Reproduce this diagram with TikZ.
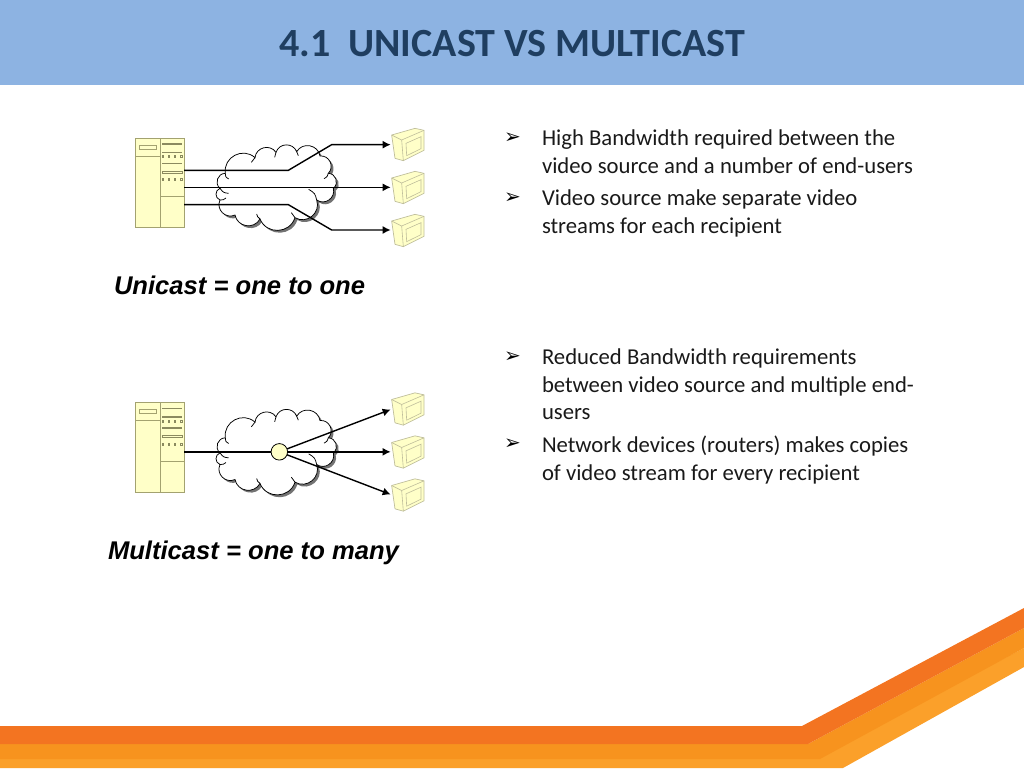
\documentclass[tikz,border=0pt]{standalone}
\usepackage{fontspec}
\setmainfont{Carlito}
\newfontfamily\arialfont{Liberation Sans}
\newfontfamily\bulletfont{DejaVu Sans}
\usetikzlibrary{arrows.meta}
\definecolor{headerblue}{HTML}{8DB3E2}
\definecolor{titleblue}{HTML}{1F3E60}
\definecolor{bandA}{HTML}{F37421}
\definecolor{bandB}{HTML}{F7931E}
\definecolor{bandC}{HTML}{FBA02A}
\definecolor{creamfill}{HTML}{FFFFC8}
\definecolor{creamline}{HTML}{A3A270}
\newcommand{\cloudoutline}{(316,160)
 to[puff] (405,113)
 to[puff] (468,97)
 to[puff] (530,95)
 to[puff] (600,108)
 to[puff] (625,160)
 to[puff] (640,205)
 to[puff] (590,240)
 to[puff] (525,293)
 to[puff] (420,297)
 to[puff] (345,285)
 to[puff] (300,240)
 to[puff] (300,205)
 to[puff] (316,160) -- cycle}
\tikzset{
 every node/.style={inner sep=0pt,outer sep=0pt},
 puff/.style={bend left=70,looseness=1.25},
 link/.style={black,line width=1.4pt},
 linkarrow/.style={link,-{Latex[length=8pt,width=8pt]}},
 serverpart/.style={draw=creamline,line width=0.7pt},
 serverbar/.style={draw=creamline!85!black,line width=1.5pt},
 cloudline/.style={draw=black,line width=0.75pt},
 bodytext/.style={font=\fontsize{22.7}{27.5}\selectfont,align=left,anchor=north west,text=black!90},
 bulletmark/.style={font=\bulletfont\bfseries\fontsize{20}{20}\selectfont,anchor=north west},
 caption/.style={font=\arialfont\bfseries\itshape\fontsize{25.6}{25.6}\selectfont,anchor=base west},
 server/.pic={
  \path[serverpart,fill=creamfill] (46,55) rectangle (193,323);
  \draw[serverpart] (121,55) -- (121,323) (46,108) -- (121,108) (121,230) -- (193,230);
  \draw[serverpart] (58,76) rectangle (110,88);
  \draw[serverbar] (127,72) -- (187,72) (127,97) -- (187,97) (127,131) -- (187,131);
  \draw[serverbar,line width=0.8pt] (127,154) rectangle (187,159);
  \foreach \dx in {129,146,165,184} {
   \draw[creamline!85!black,line width=0.6pt] (\dx-2,107) rectangle (\dx+2,113);
   \draw[creamline!85!black,line width=0.6pt] (\dx-2,175) rectangle (\dx+2,181);
  }
 },
 monitor/.pic={
  \path[draw=creamline!70,line width=0.7pt,fill=creamfill,line join=round] (815,45) -- (885,25) -- (912,31) -- (912,91) -- (850,122) -- (825,115) -- cycle;
  \draw[draw=creamline!70,line width=0.6pt] (815,45) -- (845,60) -- (912,31) (845,60) -- (850,122);
  \draw[draw=creamline!70,line width=0.6pt] (858,70) -- (903,50) -- (903,86) -- (860,107) -- cycle;
 },
 cloudshape/.pic={
  \fill[black!55,shift={(7,7)}] \cloudoutline;
  \path[cloudline,fill=white] \cloudoutline;
  \draw[cloudline] (316,160) .. controls (316,170) .. (326,177)
    (405,113) .. controls (398,118) .. (394,127)
    (468,97) .. controls (464,103) .. (464,112)
    (530,95) .. controls (534,100) .. (535,107)
    (625,160) .. controls (622,170) .. (612,176)
    (590,240) .. controls (585,220) .. (566,208)
    (300,205) .. controls (310,218) .. (326,220)
    (300,240) .. controls (310,240) .. (318,234)
    (420,297) .. controls (412,290) .. (410,282)
    (525,293) .. controls (518,288) .. (514,278);
 },
}
\begin{document}
\begin{tikzpicture}[x=1pt,y=-1pt]
\useasboundingbox (0,0) rectangle (1024,768);
% header
\fill[headerblue] (0,0) rectangle (1024,85);
\node[font=\bfseries\fontsize{40}{40}\selectfont,text=titleblue] (title) at (512,43.5) {4.1\ \ UNICAST VS MULTICAST};
% footer
\fill[bandC] (0,757) -- (815,757) -- (1024,648) -- (1024,667) -- (843,768) -- (0,768) -- cycle;
\fill[bandB] (0,744) -- (808,744) -- (1024,628) -- (1024,648) -- (820,759) -- (0,759) -- cycle;
\fill[bandA] (0,726) -- (802,726) -- (1024,608) -- (1024,628) -- (808,744) -- (0,744) -- cycle;
% unicast diagram
\begin{scope}[shift={(120,120)},x=0.33333pt,y=-0.33333pt]
 \pic {cloudshape};
 \pic {server};
 \pic {monitor};
 \pic[yshift=-43pt] {monitor};
 \pic[yshift=-86pt] {monitor};
 \coordinate (ua1) at (192,151); \coordinate (ua2) at (505,151); \coordinate (ua3) at (635,74); \coordinate (ua4) at (812,74);
 \coordinate (ub1) at (192,202); \coordinate (ub4) at (812,202);
 \coordinate (uc1) at (192,254); \coordinate (uc2) at (505,254); \coordinate (uc3) at (635,330); \coordinate (uc4) at (812,330);
 \draw[linkarrow] (ua1) -- (ua2) -- (ua3) -- (ua4);
 \draw[linkarrow] (ub1) -- (ub4);
 \draw[linkarrow] (uc1) -- (uc2) -- (uc3) -- (uc4);
\end{scope}
% multicast diagram
\begin{scope}[shift={(120,384.5)},x=0.33333pt,y=-0.33333pt]
 \pic {cloudshape};
 \pic {server};
 \pic {monitor};
 \pic[yshift=-43pt] {monitor};
 \pic[yshift=-86pt] {monitor};
 \node[circle,draw=black,line width=0.8pt,fill=creamfill,minimum size=16.5pt] (hub) at (478,202) {};
 \coordinate (ms) at (192,202);
 \coordinate (m1) at (812,75); \coordinate (m2) at (812,202); \coordinate (m3) at (812,330);
 \draw[link] (ms) -- (hub);
 \draw[linkarrow] (hub) -- (m1);
 \draw[linkarrow] (hub) -- (m2);
 \draw[linkarrow] (hub) -- (m3);
\end{scope}
% captions
\node[caption] (ucap) at (114,294) {Unicast = one to one};
\node[caption] (mcap) at (108,559) {Multicast = one to many};
% bullets
\node[bulletmark] (b1) at (504,133) {➢};
\node[bulletmark] (b2) at (504,193) {➢};
\node[bulletmark] (b3) at (504,352) {➢};
\node[bulletmark] (b4) at (504,439) {➢};
\node[bodytext] (t1) at (542,130) {High Bandwidth required between the\\video source and a number of end-users};
\node[bodytext] (t2) at (542,190) {Video source make separate video\\streams for each recipient};
\node[bodytext] (t3) at (542,349) {Reduced Bandwidth requirements\\between video source and multiple end-\\users};
\node[bodytext] (t4) at (542,436) {Network devices (routers) makes copies\\of video stream for every recipient};
\end{tikzpicture}
\end{document}
